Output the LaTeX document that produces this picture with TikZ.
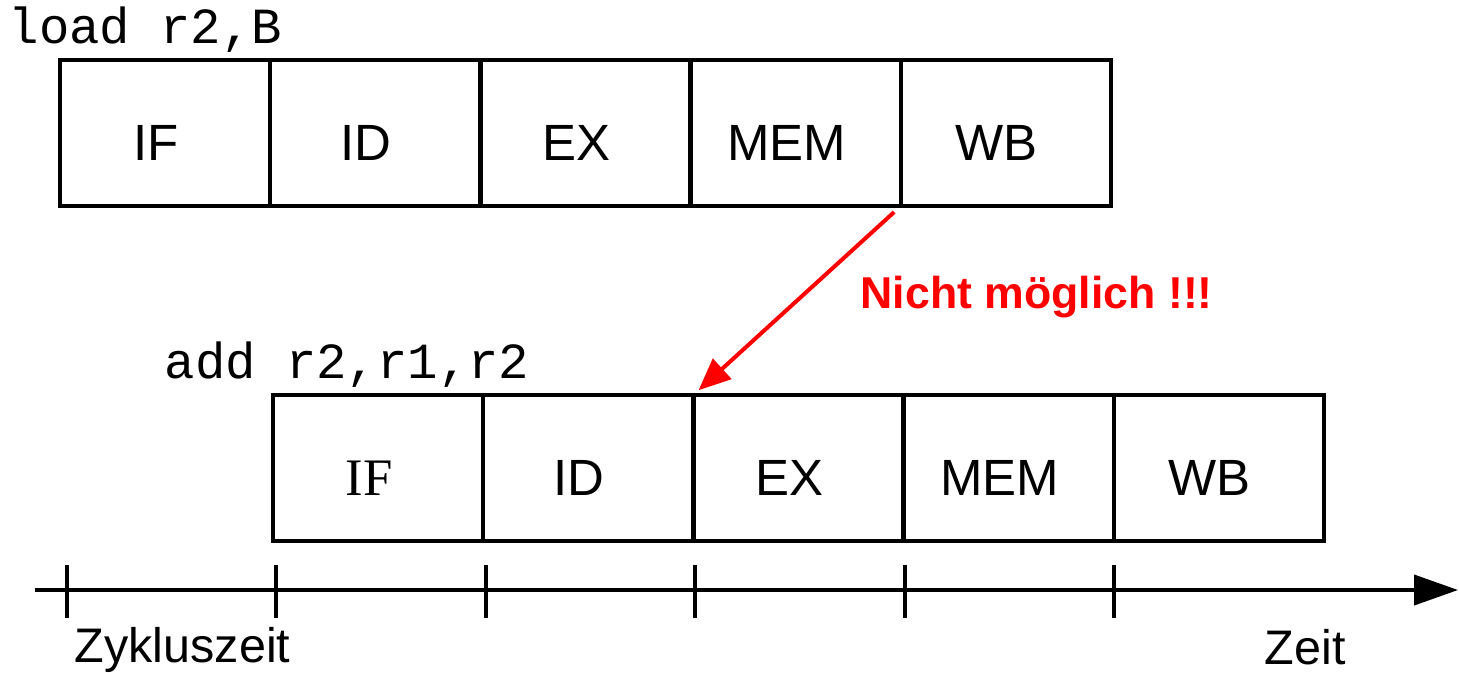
\documentclass[tikz,border=0pt]{standalone}
\usepackage{fontspec}
\setmainfont{Liberation Sans}
\newfontfamily\codefont{Liberation Mono}
\newfontfamily\seriffont{Liberation Serif}
\usepackage{tikz}
\usetikzlibrary{arrows.meta, positioning, calc}
\definecolor{mainBlack}{gray}{0}
\definecolor{warnRed}{rgb}{1,0,0}

\begin{document}
\begin{tikzpicture}[scale=1.0, >={Triangle[length=0.44cm,width=0.30cm]},
    stage/.style={draw=mainBlack, line width=0.045cm, minimum width=2.102cm, minimum height=1.46cm,
        inner sep=0pt, outer sep=0pt, text height=0.55cm, font=\fontsize{14.5}{17}\selectfont,
        execute at end node={\hspace*{0.18cm}}},
    instr/.style={anchor=base west, inner sep=0pt, font=\codefont\fontsize{14.4}{17}\selectfont},
    timelabel/.style={anchor=base west, inner sep=0pt, font=\fontsize{13.8}{16}\selectfont}]
    \useasboundingbox (0,0) rectangle (14.59,-6.72);

    % load r2,B
    \node[instr] (load) at (0.08,-0.43) {load r2,B};
    \node[stage, anchor=north west] (l1) at (0.60,-0.60) {IF};
    \node[stage, right=0cm of l1] (l2) {ID};
    \node[stage, right=0cm of l2] (l3) {EX};
    \node[stage, right=0cm of l3] (l4) {MEM};
    \node[stage, right=0cm of l4] (l5) {WB};

    % add r2,r1,r2
    \node[instr] (add) at (1.64,-3.78) {add r2,r1,r2};
    \node[stage, anchor=north west, font=\seriffont\fontsize{15}{17}\selectfont] (a1) at (2.73,-3.95) {IF};
    \node[stage, right=0cm of a1] (a2) {ID};
    \node[stage, right=0cm of a2] (a3) {EX};
    \node[stage, right=0cm of a3] (a4) {MEM};
    \node[stage, right=0cm of a4] (a5) {WB};

    % WB -> EX geht nicht
    \draw[-{Triangle[length=0.32cm,width=0.27cm]}, warnRed, line width=0.04cm,
        shorten <=0.09cm, shorten >=0.07cm] (l4.south east) -- (a3.north west);
    \node[anchor=base west, inner sep=0pt, text=warnRed, font=\bfseries\fontsize{12.7}{15}\selectfont]
        (warn) at (8.60,-3.08) {Nicht möglich !!!};

    % Zeitachse
    \coordinate (t0) at (0.35,-5.90);
    \coordinate (tEnd) at (14.58,-5.90);
    \draw[->, line width=0.04cm, mainBlack] (t0) -- (tEnd);
    \foreach \i in {0,...,5}
        \draw[line width=0.04cm, mainBlack] ({0.67+2.094*\i},-5.65) -- ++(0,-0.53);
    \node[timelabel] (cycle) at (0.74,-6.62) {Zykluszeit};
    \node[timelabel] (time) at (12.64,-6.64) {Zeit};
\end{tikzpicture}
\end{document}
